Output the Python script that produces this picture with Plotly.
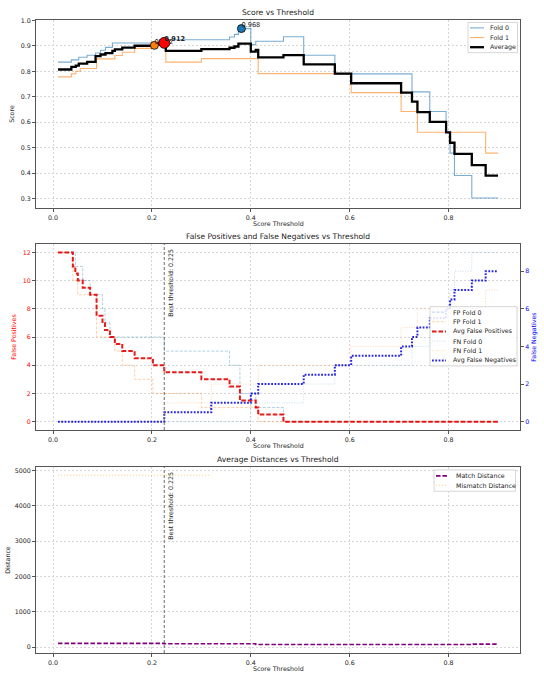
import plotly.graph_objects as go

# ---------------- Score vs Threshold (step breakpoints) ----------------
fold0_thr = [0.01, 0.037, 0.052, 0.069, 0.086, 0.096, 0.106, 0.12, 0.215, 0.357, 0.367, 0.375,
             0.40, 0.41, 0.466, 0.507, 0.57, 0.726, 0.762, 0.795, 0.803, 0.812, 0.847, 0.90]
fold0_score = [0.836, 0.845, 0.855, 0.863, 0.872, 0.883, 0.894, 0.911, 0.924, 0.935, 0.945, 0.968,
               0.905, 0.918, 0.936, 0.863, 0.79, 0.719, 0.642, 0.56, 0.478, 0.39, 0.302, 0.302]

fold1_thr = [0.01, 0.037, 0.046, 0.055, 0.088, 0.125, 0.14, 0.165, 0.202, 0.228, 0.30, 0.415,
             0.603, 0.704, 0.737, 0.875, 0.90]
fold1_score = [0.778, 0.79, 0.80, 0.811, 0.849, 0.862, 0.875, 0.89, 0.902, 0.836, 0.85, 0.791,
               0.716, 0.642, 0.56, 0.478, 0.478]

avg_thr = [0.01, 0.037, 0.046, 0.052, 0.069, 0.086, 0.096, 0.106, 0.12, 0.125, 0.14, 0.165, 0.202,
           0.215, 0.228, 0.30, 0.357, 0.367, 0.375, 0.40, 0.41, 0.415, 0.466, 0.507, 0.57, 0.603,
           0.704, 0.726, 0.737, 0.762, 0.795, 0.803, 0.812, 0.847, 0.875, 0.90]
avg_score = [0.807, 0.8175, 0.8225, 0.83, 0.837, 0.86, 0.866, 0.8715, 0.88, 0.8865, 0.893, 0.9005,
             0.9065, 0.912, 0.88, 0.887, 0.8925, 0.8975, 0.909, 0.8775, 0.884, 0.8545, 0.8635,
             0.827, 0.7905, 0.753, 0.716, 0.6805, 0.6395, 0.601, 0.56, 0.519, 0.475, 0.431, 0.39, 0.39]

best_fold0 = (0.381, 0.968)
best_fold1 = (0.205, 0.902)
best_avg = (0.225, 0.912)
best_threshold = 0.225

# ---------------- False positives / negatives ----------------
fp0_thr = [0.01, 0.045, 0.06, 0.075, 0.10, 0.105, 0.115, 0.225, 0.357, 0.378, 0.41, 0.466, 0.90]
fp0_val = [12, 11, 10, 9, 8, 7, 6, 5, 4, 2, 1, 0, 0]
fp1_thr = [0.01, 0.04, 0.05, 0.088, 0.125, 0.14, 0.165, 0.202, 0.30, 0.415, 0.90]
fp1_val = [12, 10, 9, 6, 5, 4, 3, 2, 1, 0, 0]
fpavg_thr = [0.01, 0.04, 0.045, 0.05, 0.06, 0.075, 0.088, 0.10, 0.105, 0.115, 0.125, 0.14, 0.165,
             0.202, 0.225, 0.30, 0.357, 0.378, 0.41, 0.415, 0.466, 0.90]
fpavg_val = [12, 11, 10.5, 10, 9.5, 9, 7.5, 7, 6.5, 6, 5.5, 5, 4.5, 4, 3.5, 3, 2.5, 1.5, 1, 0.5, 0, 0]

fn0_thr = [0.01, 0.40, 0.507, 0.57, 0.726, 0.762, 0.795, 0.803, 0.812, 0.847, 0.90]
fn0_val = [0, 1, 2, 3, 4, 5, 6, 7, 8, 9, 9]
fn1_thr = [0.01, 0.225, 0.32, 0.415, 0.603, 0.704, 0.737, 0.875, 0.90]
fn1_val = [0, 1, 2, 3, 4, 5, 6, 7, 7]
fnavg_thr = [0.01, 0.225, 0.32, 0.40, 0.415, 0.507, 0.57, 0.603, 0.704, 0.726, 0.737, 0.762,
             0.795, 0.803, 0.812, 0.847, 0.875, 0.90]
fnavg_val = [0, 0.5, 1, 1.5, 2, 2.5, 3, 3.5, 4, 4.5, 5, 5.5, 6, 6.5, 7, 7.5, 8, 8]

# ---------------- Distances ----------------
match_thr = [0.01, 0.225, 0.41, 0.85, 0.90]
match_dist = [110, 100, 80, 88, 88]
mismatch_thr = [0.01, 0.32]
mismatch_dist = [4860, 4860]

# ---------------- layout helpers ----------------
W, H = 544, 680
FONT = "DejaVu Sans"
FS = 6.3        # ticks, labels, legend
FT = 7.6        # panel titles
def dx(l, r):
    return [l / W, r / W]
def dy(t, b):
    return [1 - b / H, 1 - t / H]
def px(x):
    return x / W
def py(y):
    return 1 - y / H

P1 = (17, 206)
P2 = (242, 429)
P3 = (466, 653)
XL, XR = 36, 520

fig = go.Figure()
legend_items = {1: [], 2: [], 3: []}

def step(x, y, name, color, width, dash="solid", xa="x", ya="y", panel=1):
    fig.add_trace(go.Scatter(x=x, y=y, mode="lines", name=name, line_shape="hv",
                             line=dict(color=color, width=width, dash=dash),
                             xaxis=xa, yaxis=ya, showlegend=False, hoverinfo="skip"))
    legend_items[panel].append((name, color, width, dash))

# Panel 1
step(fold0_thr, fold0_score, "Fold 0", "rgba(31,119,180,0.6)", 1.1)
step(fold1_thr, fold1_score, "Fold 1", "rgba(255,127,14,0.6)", 1.1)
step(avg_thr, avg_score, "Average", "black", 2.3)

def marker(pt, color, size):
    fig.add_trace(go.Scatter(x=[pt[0]], y=[pt[1]], mode="markers",
                             marker=dict(color=color, size=size, line=dict(color="black", width=0.8)),
                             xaxis="x", yaxis="y", showlegend=False, hoverinfo="skip"))

def label(pt, txt, bold=False):
    fig.add_trace(go.Scatter(x=[pt[0]], y=[pt[1]], mode="text",
                             text=["<b>%s</b>" % txt if bold else txt],
                             textposition="top right",
                             textfont=dict(family=FONT, size=FS + 0.3, color="#222"),
                             xaxis="x", yaxis="y", showlegend=False, hoverinfo="skip"))

marker(best_fold0, "#1f77b4", 8)
label(best_fold0, "%.3f" % best_fold0[1])
marker(best_fold1, "#ff7f0e", 8)
label(best_fold1, "%.3f" % best_fold1[1])
marker(best_avg, "red", 11)
label(best_avg, "%.3f" % best_avg[1], bold=True)

# Panel 2
step(fp0_thr, fp0_val, "FP Fold 0", "rgba(31,119,180,0.35)", 1, "3px,1.5px", "x2", "y2", 2)
step(fp1_thr, fp1_val, "FP Fold 1", "rgba(255,127,14,0.35)", 1, "3px,1.5px", "x2", "y2", 2)
step(fpavg_thr, fpavg_val, "Avg False Positives", "rgba(230,0,0,0.9)", 2, "4.5px,2px", "x2", "y2", 2)
step(fn0_thr, fn0_val, "FN Fold 0", "rgba(31,119,180,0.25)", 1, "1px,1.5px", "x2", "y3", 2)
step(fn1_thr, fn1_val, "FN Fold 1", "rgba(255,127,14,0.3)", 1, "1px,1.5px", "x2", "y3", 2)
step(fnavg_thr, fnavg_val, "Avg False Negatives", "rgba(0,0,220,0.85)", 2, "1.8px,1.5px", "x2", "y3", 2)

# Panel 3
step(match_thr, match_dist, "Match Distance", "purple", 1.6, "4.5px,2px", "x3", "y4", 3)
step(mismatch_thr, mismatch_dist, "Mismatch Distance", "rgba(255,165,0,0.45)", 1.2, "1.2px,1.8px", "x3", "y4", 3)

tickfont = dict(family=FONT, size=FS, color="#222")
def ttl(text, color="#222", standoff=4):
    return dict(text=text, font=dict(family=FONT, size=FS, color=color), standoff=standoff)

axis_common = dict(showline=True, mirror=True, linecolor="#555", linewidth=1,
                   ticks="outside", ticklen=3, tickcolor="#555", tickwidth=0.8,
                   showgrid=True, gridcolor="#d6d6d6", griddash="2px,2px", gridwidth=0.8,
                   zeroline=False, tickfont=tickfont)
xcommon = dict(axis_common, range=[-0.0345, 0.9445], tickvals=[0, 0.2, 0.4, 0.6, 0.8],
               tickformat=".1f", domain=dx(XL, XR))

fig.update_layout(
    width=W, height=H, autosize=False, showlegend=False,
    margin=dict(l=0, r=0, t=0, b=0),
    paper_bgcolor="white", plot_bgcolor="white",
    font=dict(family=FONT, size=FS, color="#222"),
    xaxis=dict(xcommon, anchor="y"),
    yaxis=dict(axis_common, anchor="x", domain=dy(*P1), range=[0.262, 1.002],
               tickvals=[0.3, 0.4, 0.5, 0.6, 0.7, 0.8, 0.9, 1.0], tickformat=".1f",
               title=ttl("Score", standoff=5)),
    xaxis2=dict(xcommon, anchor="y2"),
    yaxis2=dict(axis_common, anchor="x2", domain=dy(*P2), range=[-0.6, 12.6],
                tickvals=[0, 2, 4, 6, 8, 10, 12], tickfont=dict(tickfont, color="red"),
                title=ttl("False Positives", "red", 5)),
    yaxis3=dict(axis_common, anchor="x2", overlaying="y2", side="right", range=[-0.45, 9.45],
                showgrid=False, mirror=False, tickvals=[0, 2, 4, 6, 8],
                tickfont=dict(tickfont, color="blue"),
                title=ttl("False Negatives", "blue", 3)),
    xaxis3=dict(xcommon, anchor="y4"),
    yaxis4=dict(axis_common, anchor="x3", domain=dy(*P3), range=[-165, 5095],
                tickvals=[0, 1000, 2000, 3000, 4000, 5000], tickformat="d",
                title=ttl("Distance", standoff=3)),
)

# Titles and x-axis titles
for (top, bottom, txt) in [(P1[0], P1[1], "Score vs Threshold"),
                           (P2[0], P2[1], "False Positives and False Negatives vs Threshold"),
                           (P3[0], P3[1], "Average Distances vs Threshold")]:
    fig.add_annotation(x=px((XL + XR) / 2), y=py(top - 7), xref="paper", yref="paper",
                       text=txt, showarrow=False, xanchor="center", yanchor="middle",
                       font=dict(family=FONT, size=FT, color="#222"))
    fig.add_annotation(x=px((XL + XR) / 2), y=py(bottom + 15), xref="paper", yref="paper",
                       text="Score Threshold", showarrow=False, xanchor="center", yanchor="middle",
                       font=dict(family=FONT, size=FS, color="#222"))

# Best threshold lines + text
for xa, ya in [("x2", "y2"), ("x3", "y4")]:
    fig.add_shape(type="line", x0=best_threshold, x1=best_threshold, y0=0, y1=1,
                  xref=xa, yref=ya + " domain", layer="above",
                  line=dict(color="rgba(110,110,110,0.85)", width=1.2, dash="3px,2px"))
    fig.add_annotation(x=best_threshold, y=1, xref=xa, yref=ya + " domain",
                       text="Best threshold: %.3f" % best_threshold, textangle=-90,
                       showarrow=False, xanchor="left", yanchor="top", xshift=1, yshift=-3,
                       font=dict(family=FONT, size=FS, color="#222"))

# Matplotlib-style compact legends (drawn from the trace styles above)
def draw_legend(items, left, top, right, row_h, first_y, line_x0, line_x1, text_x):
    bottom = first_y + row_h * (len(items) - 1) + (first_y - top)
    fig.add_shape(type="rect", xref="paper", yref="paper",
                  x0=px(left), x1=px(right), y0=py(bottom), y1=py(top),
                  fillcolor="rgba(255,255,255,0.85)", line=dict(color="#cccccc", width=0.8),
                  layer="above")
    for i, (name, color, width, dash) in enumerate(items):
        yy = first_y + i * row_h
        fig.add_shape(type="line", xref="paper", yref="paper",
                      x0=px(line_x0), x1=px(line_x1), y0=py(yy), y1=py(yy),
                      line=dict(color=color, width=width, dash=dash), layer="above")
        fig.add_annotation(x=px(text_x), y=py(yy), xref="paper", yref="paper", text=name,
                           showarrow=False, xanchor="left", yanchor="middle",
                           font=dict(family=FONT, size=FS, color="#222"))

draw_legend(legend_items[1], 468, 19.5, 517.5, 9.7, 25, 470, 484, 488)
draw_legend(legend_items[2], 430, 305, 517, 9.7, 310.5, 432, 446, 451)
draw_legend(legend_items[3], 434, 469, 515.5, 9.4, 475, 436, 448, 454)

fig.write_html("out.html", include_plotlyjs=True, config={"displayModeBar": False},
               post_script="document.body.style.margin='0';")
